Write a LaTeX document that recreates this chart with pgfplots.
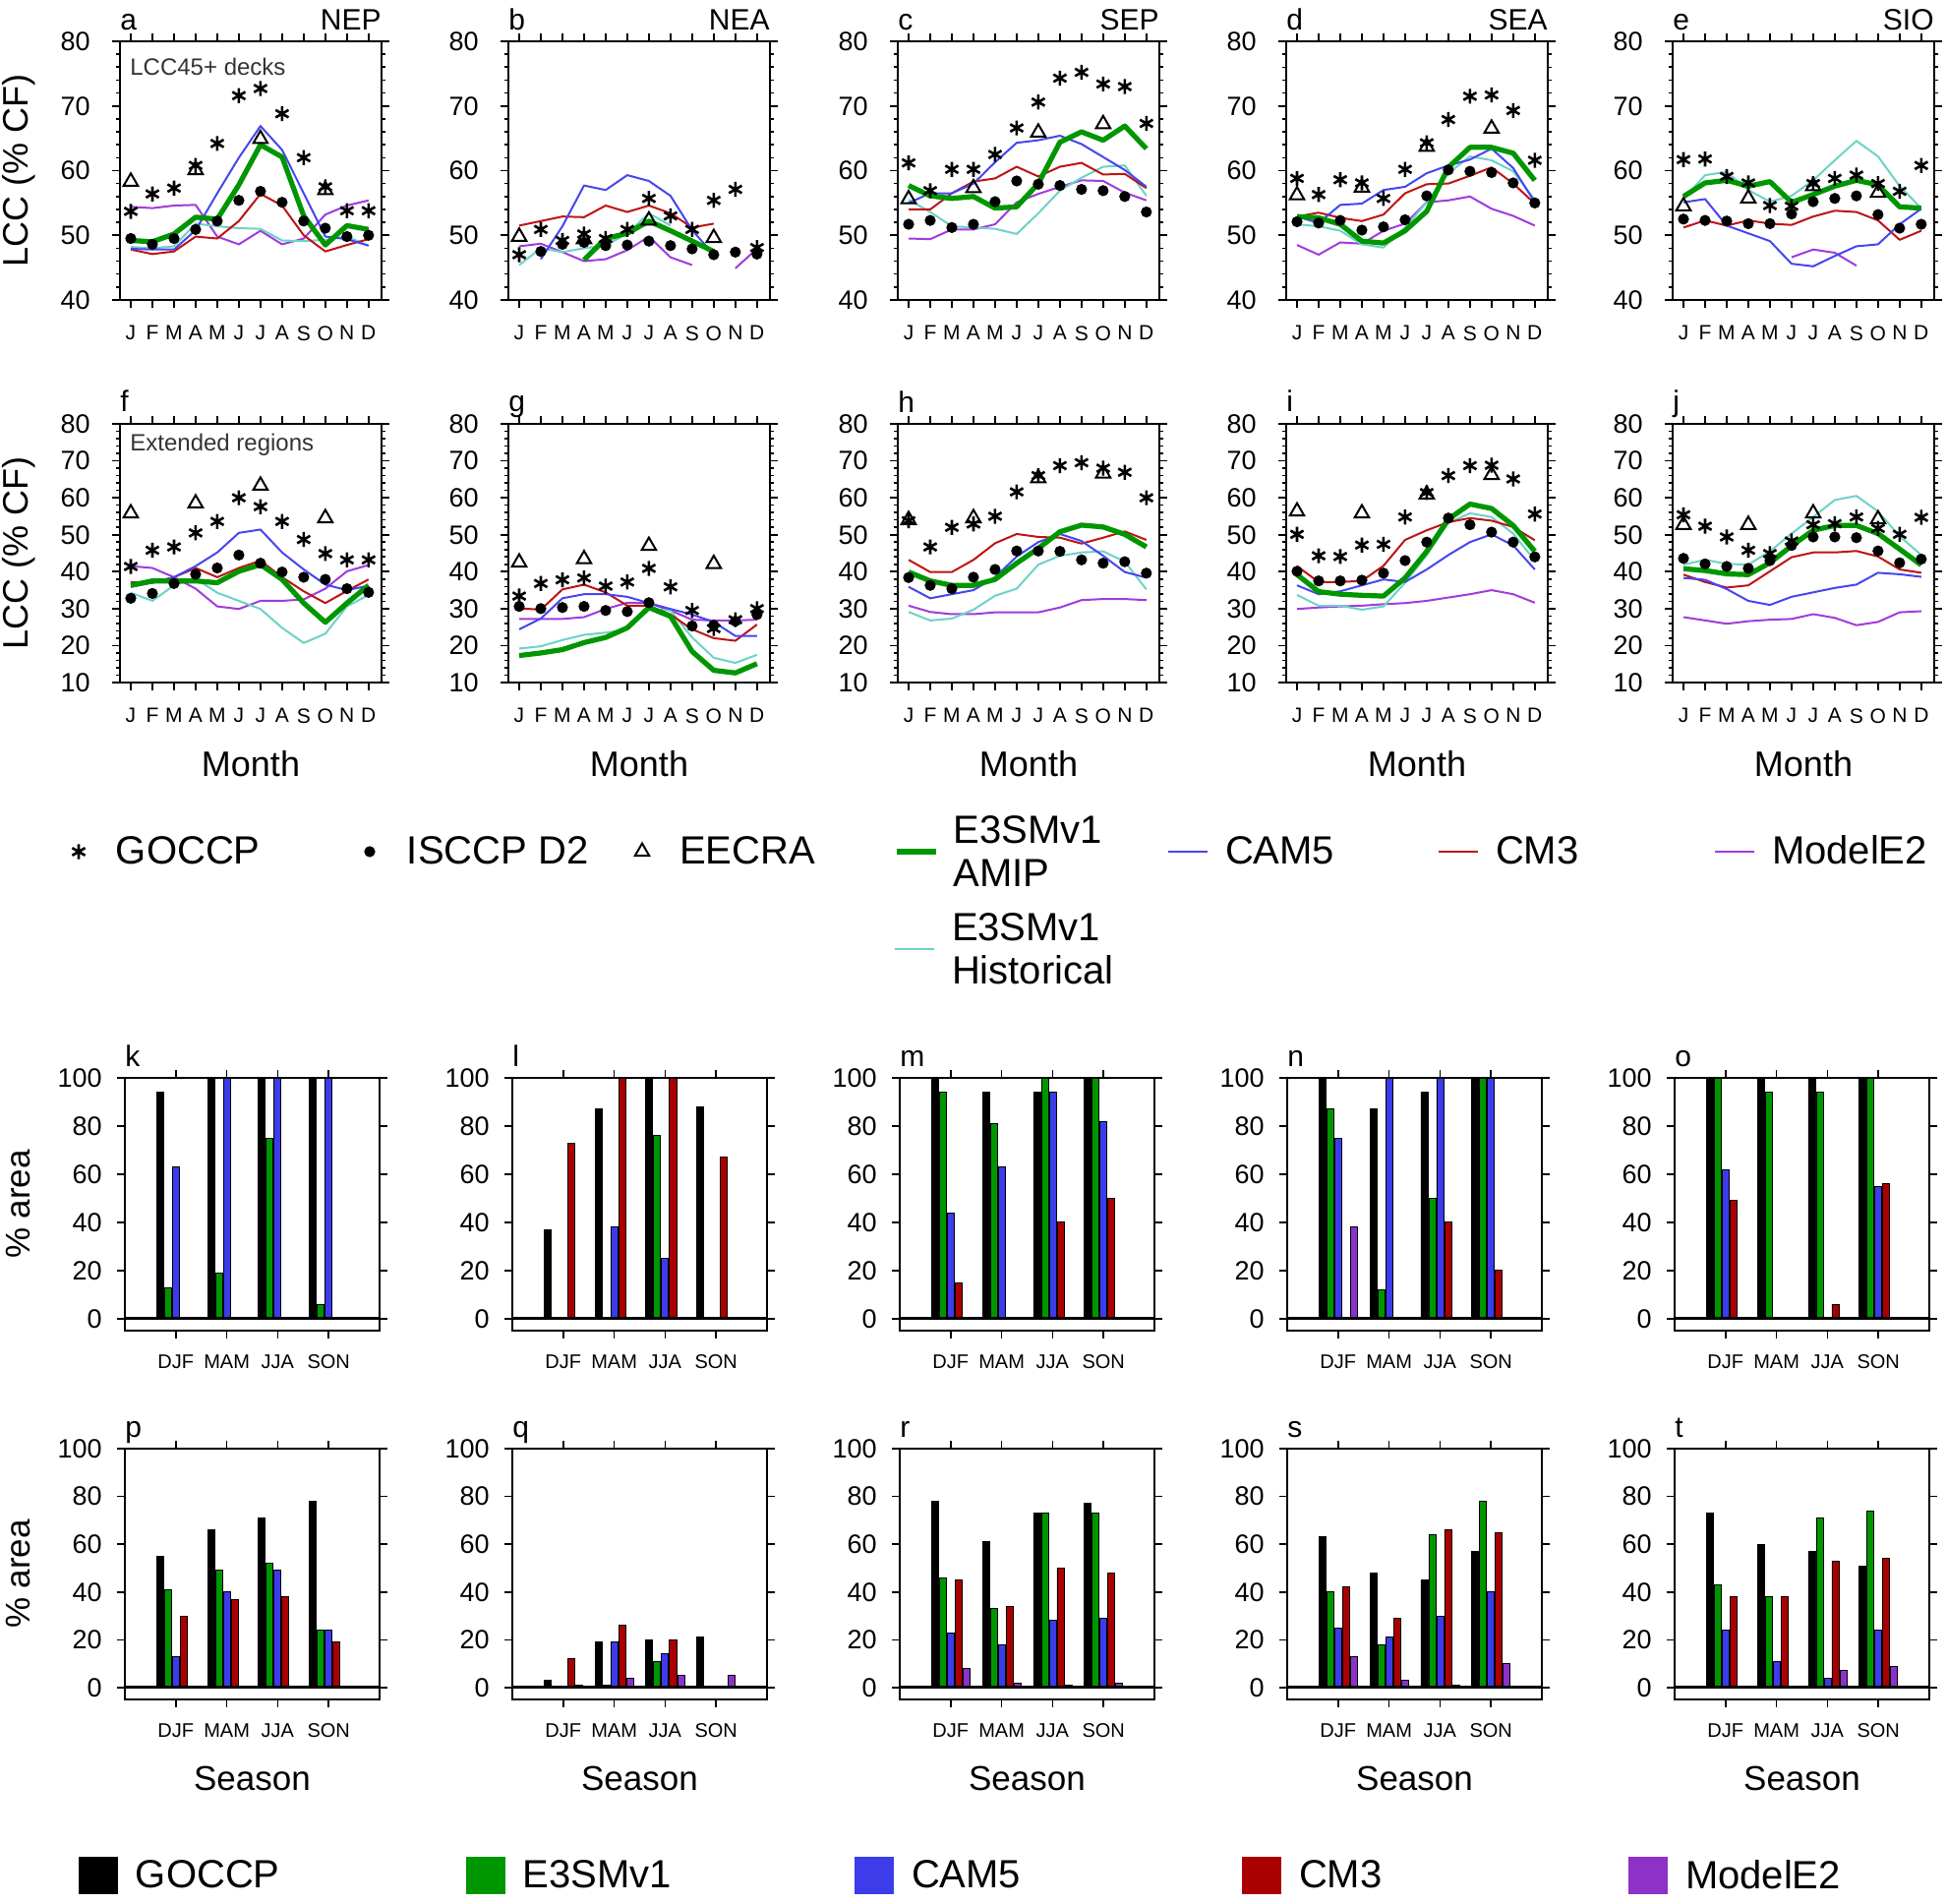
\documentclass[border=0pt]{standalone}
\usepackage{pgfplots}
\usepackage{pgfplotstable}
\pgfplotsset{compat=1.18}
\usepackage{fontspec}
\setmainfont{Liberation Sans}

\definecolor{cgreen}{RGB}{0,150,0}
\definecolor{cblue}{RGB}{70,70,240}
\definecolor{cred}{RGB}{190,20,20}
\definecolor{cpurple}{RGB}{160,60,220}
\definecolor{ccyan}{RGB}{110,210,200}
\definecolor{bgreen}{RGB}{0,150,0}
\definecolor{bblue}{RGB}{60,60,235}
\definecolor{bred}{RGB}{170,0,0}
\definecolor{bpurple}{RGB}{140,50,200}

\newcommand{\fs}[1]{\fontsize{#1}{#1}\selectfont}

% ---------- line panel data ----------
\pgfplotstableread{
m goccp isccp eecra amip cam5 cm3 mod hist
1 53.7 49.5 58.3 49.2 47.9 47.8 54.4 48.2
2 56.4 48.6 nan 49.0 47.8 47.1 54.2 48.0
3 57.3 49.5 nan 50.2 47.8 47.5 54.6 48.3
4 60.8 50.9 60.1 52.8 50.8 49.8 54.7 51.8
5 64.2 52.2 nan 52.5 56.5 49.5 49.8 51.4
6 71.6 55.4 nan 57.8 62.0 52.2 48.6 51.1
7 72.7 56.8 64.9 64.0 66.9 56.4 50.7 51.0
8 68.8 55.1 nan 62.1 63.2 54.6 48.6 49.2
9 62.0 52.2 nan 53.0 56.5 50.0 49.5 49.1
10 57.5 51.1 57.0 48.5 49.8 47.5 53.2 49.3
11 53.8 49.8 nan 51.5 49.4 48.5 54.6 49.8
12 53.8 50.0 nan 50.9 48.4 49.4 55.4 48.4
}\dA
\pgfplotstableread{
m goccp isccp eecra amip cam5 cm3 mod hist
1 47.0 nan 49.8 nan nan 51.5 48.3 45.4
2 50.9 47.5 nan nan 46.3 52.2 48.7 48.0
3 49.2 48.6 nan nan 51.4 52.9 47.4 47.4
4 50.2 48.9 49.4 46.2 57.7 52.8 46.0 48.0
5 49.5 48.4 nan 49.5 57.0 54.6 46.3 48.4
6 50.9 48.5 nan 50.3 59.3 53.6 47.7 50.3
7 55.7 49.1 52.3 52.2 58.4 54.6 49.8 53.4
8 53.0 48.4 nan 50.7 56.1 53.4 46.6 51.5
9 50.9 47.9 nan 49.1 50.8 51.2 45.4 nan
10 55.4 47.0 49.6 47.5 47.0 51.8 nan nan
11 57.1 47.4 nan nan nan nan 44.9 nan
12 48.1 47.1 nan nan nan nan 47.9 nan
}\dB
\pgfplotstableread{
m goccp isccp eecra amip cam5 cm3 mod hist
1 61.2 51.7 55.6 57.7 55.0 54.0 49.5 55.5
2 56.9 52.3 nan 56.1 56.5 54.0 49.4 53.6
3 60.2 51.2 nan 55.7 56.5 56.5 50.9 51.4
4 60.2 51.7 57.3 56.0 58.0 58.3 50.9 51.2
5 62.5 55.2 nan 54.2 61.3 58.8 51.7 51.0
6 66.6 58.4 nan 54.4 64.3 60.6 55.1 50.2
7 70.6 57.9 65.9 58.0 64.7 59.1 56.4 53.4
8 74.3 57.7 nan 64.4 65.4 60.6 57.5 56.9
9 75.2 57.1 nan 66.0 64.1 61.2 58.5 58.9
10 73.4 56.9 67.2 64.7 62.1 59.4 58.4 60.6
11 73.0 56.0 nan 66.9 60.1 59.5 56.6 60.8
12 67.3 53.6 nan 63.4 57.5 57.3 55.4 56.1
}\dC
\pgfplotstableread{
m goccp isccp eecra amip cam5 cm3 mod hist
1 58.8 52.1 56.2 52.9 52.9 52.9 48.5 51.7
2 56.3 51.9 nan 52.7 51.9 53.5 47.0 51.4
3 58.6 52.3 nan 51.7 54.7 52.7 48.9 50.7
4 58.1 50.8 57.4 49.1 54.9 52.2 48.7 48.6
5 55.7 51.3 nan 48.8 57.0 53.2 50.7 48.1
6 60.2 52.4 nan 50.7 57.5 56.5 51.8 51.2
7 64.3 56.1 63.7 53.7 59.6 57.9 55.1 55.1
8 67.9 60.1 nan 60.5 60.8 58.0 55.4 59.6
9 71.5 59.9 nan 63.6 61.7 59.2 56.0 62.2
10 71.7 59.7 66.5 63.6 63.4 60.5 54.1 61.6
11 69.3 58.1 nan 62.7 60.4 58.0 53.0 59.9
12 61.6 55.0 nan 58.5 55.1 54.9 51.5 55.5
}\dD
\pgfplotstableread{
m goccp isccp eecra amip cam5 cm3 mod hist
1 61.7 52.5 54.5 56.0 55.1 51.2 nan 55.6
2 61.8 52.3 nan 58.1 55.6 52.3 nan 59.3
3 59.1 52.2 nan 58.5 51.5 51.5 nan 59.8
4 58.1 51.8 55.7 57.6 50.3 52.3 nan 57.0
5 54.6 51.8 nan 58.3 49.1 51.8 nan 55.2
6 54.5 53.3 nan 55.1 45.6 51.6 46.6 56.1
7 58.0 55.2 57.6 56.3 45.2 52.9 47.8 58.5
8 58.8 55.7 nan 57.6 46.8 53.8 47.3 61.6
9 59.3 56.1 nan 58.5 48.3 53.6 45.3 64.6
10 58.0 53.2 56.6 57.8 48.6 52.3 nan 62.2
11 56.8 51.1 nan 54.4 51.7 49.3 nan 57.6
12 60.8 51.7 nan 54.2 54.1 50.7 nan 54.2
}\dE
\pgfplotstableread{
m goccp isccp eecra amip cam5 cm3 mod hist
1 41.4 32.8 55.8 36.3 35.9 37.2 41.5 34.3
2 45.8 34.1 nan 37.5 37.0 37.0 41.0 32.1
3 46.7 36.8 nan 37.5 38.5 38.5 38.5 36.3
4 50.5 39.3 58.5 37.5 41.5 41.0 35.4 38.1
5 53.6 41.0 nan 37.0 45.2 38.5 30.6 34.3
6 60.0 44.5 nan 40.1 50.5 41.0 29.9 32.1
7 57.6 42.3 63.3 41.9 51.4 43.0 32.1 29.9
8 53.6 39.9 nan 37.9 45.2 38.5 32.1 24.8
9 48.7 38.5 nan 31.5 40.6 34.7 32.5 20.7
10 44.9 37.9 54.5 26.3 36.5 31.5 35.4 23.2
11 43.2 35.4 nan 31.5 35.0 34.8 40.1 30.6
12 43.2 34.4 nan 36.3 36.2 37.9 41.8 33.7
}\dF
\pgfplotstableread{
m goccp isccp eecra amip cam5 cm3 mod hist
1 33.4 30.6 42.5 17.3 24.4 30.1 27.2 19.2
2 36.8 30.0 nan 18.0 27.3 29.7 27.2 19.8
3 37.8 30.3 nan 18.9 32.8 35.2 27.2 21.5
4 38.3 30.6 43.4 20.8 33.9 36.5 27.7 22.9
5 36.1 29.5 nan 22.2 33.9 34.4 29.9 23.5
6 37.2 29.2 nan 24.8 33.2 30.8 31.6 24.4
7 40.9 31.6 47.0 30.3 31.5 30.8 31.5 29.9
8 35.9 nan nan 27.9 29.9 28.4 29.5 29.5
9 29.5 25.3 nan 18.4 28.4 24.4 27.0 22.2
10 24.6 25.5 42.1 13.3 26.4 22.0 26.8 16.7
11 27.0 26.6 nan 12.6 22.6 21.3 26.8 15.3
12 30.0 28.4 nan 15.1 22.6 25.7 27.0 17.5
}\dG
\pgfplotstableread{
m goccp isccp eecra amip cam5 cm3 mod hist
1 53.8 38.4 54.0 39.9 35.9 43.2 30.8 29.1
2 46.7 36.3 nan 37.5 32.8 39.9 29.1 26.8
3 52.0 35.4 nan 36.3 33.9 39.9 28.5 27.3
4 52.9 38.5 54.5 36.3 35.0 43.2 28.5 29.7
5 55.0 40.6 nan 37.9 38.5 47.7 29.0 33.5
6 61.6 45.6 nan 42.3 44.1 50.2 29.0 35.4
7 66.0 45.6 65.3 46.3 48.0 49.4 29.0 41.9
8 68.7 45.5 nan 50.8 50.2 49.2 30.3 44.3
9 69.5 43.2 nan 52.6 48.3 47.6 32.3 45.2
10 68.0 42.3 66.6 52.1 44.3 49.2 32.6 45.5
11 66.9 42.7 nan 50.1 39.9 50.9 32.6 42.7
12 60.0 39.6 nan 46.7 38.4 48.6 32.3 35.2
}\dH
\pgfplotstableread{
m goccp isccp eecra amip cam5 cm3 mod hist
1 50.1 40.1 56.3 39.2 36.3 41.5 29.9 33.7
2 44.3 37.5 nan 34.6 33.9 37.2 30.3 30.8
3 44.1 37.5 nan 33.9 34.7 37.2 30.6 30.8
4 47.2 37.7 55.8 33.6 36.3 37.5 30.8 29.7
5 47.4 39.6 nan 33.4 37.9 41.6 31.2 30.6
6 54.8 43.0 nan 38.3 37.2 48.6 31.5 37.0
7 61.4 48.0 60.9 45.5 40.6 51.2 32.1 44.5
8 66.0 54.5 nan 54.2 44.5 53.4 33.0 53.2
9 68.7 52.7 nan 58.3 48.0 54.5 33.9 55.8
10 68.8 50.7 66.2 57.1 50.1 53.8 35.0 54.8
11 65.1 48.0 nan 52.5 47.1 52.1 33.9 50.3
12 55.6 44.0 nan 45.5 40.6 48.5 31.6 43.0
}\dI
\pgfplotstableread{
m goccp isccp eecra amip cam5 cm3 mod hist
1 55.4 43.6 52.7 40.8 38.3 39.2 27.7 41.9
2 52.3 42.1 nan 40.3 37.8 37.2 26.8 43.2
3 49.4 41.4 nan 39.4 35.3 35.7 25.9 42.1
4 45.8 40.9 52.7 39.2 32.1 36.3 26.6 41.9
5 44.9 43.0 nan 42.4 31.0 40.1 27.0 45.5
6 48.3 47.1 nan 47.0 33.2 43.9 27.2 50.3
7 52.7 49.4 55.8 51.2 34.4 45.2 28.5 54.8
8 53.0 49.4 nan 52.5 35.6 45.2 27.5 59.4
9 54.8 49.2 nan 52.5 36.5 45.6 25.5 60.5
10 51.7 45.6 54.2 50.3 39.7 44.1 26.4 56.3
11 50.1 42.4 nan 46.1 39.3 40.6 29.0 49.6
12 54.7 43.4 nan 41.8 38.6 39.7 29.3 44.5
}\dJ

% ---------- bar panel data (season 1..4 = DJF MAM JJA SON) ----------
\pgfplotstableread{
s g e c r p
1 94 13 63 nan nan
2 100 19 100 nan nan
3 100 75 100 nan nan
4 100 6 100 nan nan
}\bK
\pgfplotstableread{
s g e c r p
1 37 nan nan 73 nan
2 87 nan 38 100 nan
3 100 76 25 100 nan
4 88 nan nan 67 nan
}\bL
\pgfplotstableread{
s g e c r p
1 100 94 44 15 nan
2 94 81 63 nan nan
3 94 100 94 40 nan
4 100 100 82 50 nan
}\bM
\pgfplotstableread{
s g e c r p
1 100 87 75 nan 38
2 87 12 100 nan nan
3 94 50 100 40 nan
4 100 100 100 20 nan
}\bN
\pgfplotstableread{
s g e c r p
1 100 100 62 49 nan
2 100 94 nan nan nan
3 100 94 nan 6 nan
4 100 100 55 56 nan
}\bO
\pgfplotstableread{
s g e c r p
1 55 41 13 30 nan
2 66 49 40 37 nan
3 71 52 49 38 nan
4 78 24 24 19 nan
}\bP
\pgfplotstableread{
s g e c r p
1 3 nan nan 12 1
2 19 1 19 26 4
3 20 11 14 20 5
4 21 nan nan nan 5
}\bQ
\pgfplotstableread{
s g e c r p
1 78 46 23 45 8
2 61 33 18 34 2
3 73 73 28 50 1
4 77 73 29 48 2
}\bR
\pgfplotstableread{
s g e c r p
1 63 40 25 42 13
2 48 18 21 29 3
3 45 64 30 66 1
4 57 78 40 65 10
}\bS
\pgfplotstableread{
s g e c r p
1 73 43 24 38 nan
2 60 38 11 38 nan
3 57 71 4 53 7
4 51 74 24 54 9
}\bT

\pgfplotsset{
  every axis/.append style={/pgf/number format/assume math mode=true},
  legmark/.style={legend image code/.code={\path[draw=none,fill=none] (0pt,-0.5pt) rectangle (29pt,0.5pt); \draw[##1] plot coordinates {(10pt,0pt)};}},
  legline/.style={legend image code/.code={\path[draw=none,fill=none] (0pt,-0.5pt) rectangle (29pt,0.5pt); \draw[##1] (0pt,0pt) -- (20pt,0pt);}},
  legsq/.style={legend image code/.code={\path[draw=none,fill=none] (0pt,-0.5pt) rectangle (29pt,0.5pt); \fill[##1,draw=none] (0pt,-9.5pt) rectangle (20pt,9.5pt);}},
  base/.style={scale only axis, anchor=north west, clip=false,
    tick align=outside, axis line style={line width=0.9pt},
    tick style={black, line width=0.8pt},
    major tick length=4pt, minor tick length=2.2pt,
    unbounded coords=jump,
    legend cell align=left,
    legend style={draw=none, fill=none, inner sep=0pt, outer sep=0pt, anchor=west,
      font=\fontsize{20}{22}\selectfont, nodes={inner sep=0pt}}},
  lp/.style={base, width=133pt, height=131.5pt, xmin=0.5, xmax=12.6,
    xtick={1,...,12}, xticklabels={J,F,M,A,M,J,J,A,S,O,N,D},
    xticklabel style={font=\fs{10.5}, inner sep=0pt, yshift=-9pt},
    yticklabel style={font=\fs{13.5}, inner sep=0pt, xshift=-11pt},
    minor y tick num=4},
  lp1/.style={lp, ymin=40, ymax=80, ytick={40,50,...,80}},
  lp2/.style={lp, ymin=10, ymax=80, ytick={10,20,...,80}},
  bp/.style={base, width=129.5pt, xmin=0, xmax=5, ymin=-5, ymax=100,
    xtick={1,2,3,4}, xticklabels={DJF,MAM,JJA,SON},
    ytick={0,20,...,100},
    xticklabel style={font=\fs{10}, inner sep=0pt, yshift=-8pt},
    yticklabel style={font=\fs{13.5}, inner sep=0pt, xshift=-7.5pt}},
  bp1/.style={bp, height=128.5pt},
  bp2/.style={bp, height=127.5pt},
  sGO/.style={only marks, mark=asterisk, mark size=3.8pt, black, line width=1.3pt},
  sIS/.style={only marks, mark=*, mark size=2.6pt, black},
  sEE/.style={only marks, mark=triangle, mark size=4.2pt, black, line width=1pt},
  sAM/.style={cgreen, line width=2.6pt, line join=round},
  sCA/.style={cblue, line width=1pt, line join=round},
  sCM/.style={cred, line width=1pt, line join=round},
  sMO/.style={cpurple, line width=1pt, line join=round},
  sHI/.style={ccyan, line width=1pt, line join=round},
  bstyle/.style={ybar, bar width=3.5pt, draw=black, line width=0.4pt},
}

\newcommand{\lineplots}[1]{%
  \addplot[sMO] table[x=m,y=mod]{#1};
  \addplot[sHI] table[x=m,y=hist]{#1};
  \addplot[sCM] table[x=m,y=cm3]{#1};
  \addplot[sCA] table[x=m,y=cam5]{#1};
  \addplot[sAM] table[x=m,y=amip]{#1};
  \addplot[sEE] table[x=m,y=eecra]{#1};
  \addplot[sIS] table[x=m,y=isccp]{#1};
  \addplot[sGO] table[x=m,y=goccp]{#1};
}
\newcommand{\barplots}[1]{%
  \addplot[bstyle, bar shift=-8pt, fill=black] table[x=s,y=g]{#1};
  \addplot[bstyle, bar shift=-4pt, fill=bgreen] table[x=s,y=e]{#1};
  \addplot[bstyle, bar shift=0pt, fill=bblue] table[x=s,y=c]{#1};
  \addplot[bstyle, bar shift=4pt, fill=bred] table[x=s,y=r]{#1};
  \addplot[bstyle, bar shift=8pt, fill=bpurple] table[x=s,y=p]{#1};
  \addplot[black, line width=1.4pt] coordinates {(0,0) (5,0)};
  \addplot[black, line width=1.4pt] coordinates {(0,100) (5,100)};
}
\newcommand{\ptitle}[2]{%
  \node[anchor=base west, font=\fs{15}, yshift=6pt, inner sep=0pt] at (rel axis cs:0,1) {#1};
  \node[anchor=base east, font=\fs{15}, yshift=6pt, inner sep=0pt] at (rel axis cs:1,1) {#2};
}
\newcommand{\twoline}[2]{\raisebox{5.3pt}[\height][\depth]{\begin{tabular}{@{}l@{}}#1\\#2\end{tabular}}}

\begin{document}
\begin{tikzpicture}
\path[use as bounding box] (0pt,0pt) rectangle (990pt,-968pt);

% ================= Row 1 =================
\begin{axis}[lp1, at={(61pt,-21pt)},
  ylabel={LCC (\% CF)}, ylabel style={font=\fs{18}, at={(axis description cs:-0.387,0.5)}, anchor=center},
  legend style={at={(axis description cs:-0.2331,-2.1331)}}]
\addlegendimage{sGO, legmark}
\addlegendentry{GOCCP}
\lineplots{\dA}
\ptitle{a}{NEP}
\node[anchor=west, font=\fs{12}, text=black!80, inner sep=0pt, xshift=5pt, yshift=-13pt] at (rel axis cs:0,1) {LCC45+ decks};
\end{axis}

\begin{axis}[lp1, at={(258.5pt,-21pt)},
  legend style={at={(axis description cs:-0.6053,-2.1331)}}]
\addlegendimage{sIS, legmark}
\addlegendentry{ISCCP D2}
\lineplots{\dB}
\ptitle{b}{NEA}
\end{axis}

\begin{axis}[lp1, at={(456.5pt,-21pt)},
  legend style={at={(axis description cs:-1.0526,-2.1331)}}]
\addlegendimage{sEE, legmark}
\addlegendentry{EECRA}
\lineplots{\dC}
\ptitle{c}{SEP}
\end{axis}

\begin{axis}[lp1, at={(654pt,-21pt)},
  legend style={at={(axis description cs:-1.5,-2.1331)}}]
\addlegendimage{sAM, legline}
\addlegendentry{\twoline{E3SMv1}{AMIP}}
\lineplots{\dD}
\ptitle{d}{SEA}
\end{axis}

\begin{axis}[lp1, at={(850.5pt,-21pt)},
  legend style={at={(axis description cs:-1.9323,-2.1331)}}]
\addlegendimage{sCA, legline}
\addlegendentry{CAM5}
\lineplots{\dE}
\ptitle{e}{SIO}
\end{axis}

% ================= Row 2 =================
\begin{axis}[lp2, at={(61pt,-215.5pt)},
  ylabel={LCC (\% CF)}, ylabel style={font=\fs{18}, at={(axis description cs:-0.387,0.5)}, anchor=center},
  xlabel={Month}, xlabel style={font=\fs{18}, at={(axis description cs:0.5,-0.3156)}, anchor=center},
  legend style={at={(axis description cs:5.0376,-0.654)}}]
\addlegendimage{sCM, legline}
\addlegendentry{CM3}
\lineplots{\dF}
\ptitle{f}{}
\node[anchor=west, font=\fs{12}, text=black!80, inner sep=0pt, xshift=5pt, yshift=-10.5pt] at (rel axis cs:0,1) {Extended regions};
\end{axis}

\begin{axis}[lp2, at={(258.5pt,-215.5pt)},
  xlabel={Month}, xlabel style={font=\fs{18}, at={(axis description cs:0.5,-0.3156)}, anchor=center},
  legend style={at={(axis description cs:4.609,-0.654)}}]
\addlegendimage{sMO, legline}
\addlegendentry{ModelE2}
\lineplots{\dG}
\ptitle{g}{}
\end{axis}

\begin{axis}[lp2, at={(456.5pt,-215.5pt)},
  xlabel={Month}, xlabel style={font=\fs{18}, at={(axis description cs:0.5,-0.3156)}, anchor=center},
  legend style={at={(axis description cs:-0.015,-1.0304)}}]
\addlegendimage{sHI, legline}
\addlegendentry{\twoline{E3SMv1}{Historical}}
\lineplots{\dH}
\ptitle{h}{}
\end{axis}

\begin{axis}[lp2, at={(654pt,-215.5pt)},
  xlabel={Month}, xlabel style={font=\fs{18}, at={(axis description cs:0.5,-0.3156)}, anchor=center}]
\lineplots{\dI}
\ptitle{i}{}
\end{axis}

\begin{axis}[lp2, at={(850.5pt,-215.5pt)},
  xlabel={Month}, xlabel style={font=\fs{18}, at={(axis description cs:0.5,-0.3156)}, anchor=center}]
\lineplots{\dJ}
\ptitle{j}{}
\end{axis}

% ================= Row 3 (bars) =================
\begin{axis}[bp1, at={(63.5pt,-548pt)},
  ylabel={\% area}, ylabel style={font=\fs{17.5}, at={(axis description cs:-0.417,0.5)}, anchor=center},
  legend style={at={(axis description cs:-0.1815,-2.1556)}}]
\addlegendimage{legsq, fill=black}
\addlegendentry{GOCCP}
\barplots{\bK}
\ptitle{k}{}
\end{axis}

\begin{axis}[bp1, at={(260.5pt,-548pt)},
  legend style={at={(axis description cs:-0.1815,-2.1556)}}]
\addlegendimage{legsq, fill=bgreen}
\addlegendentry{E3SMv1}
\barplots{\bL}
\ptitle{l}{}
\end{axis}

\begin{axis}[bp1, at={(457.5pt,-548pt)},
  legend style={at={(axis description cs:-0.1776,-2.1556)}}]
\addlegendimage{legsq, fill=bblue}
\addlegendentry{CAM5}
\barplots{\bM}
\ptitle{m}{}
\end{axis}

\begin{axis}[bp1, at={(654.5pt,-548pt)},
  legend style={at={(axis description cs:-0.1776,-2.1556)}}]
\addlegendimage{legsq, fill=bred}
\addlegendentry{CM3}
\barplots{\bN}
\ptitle{n}{}
\end{axis}

\begin{axis}[bp1, at={(851.5pt,-548pt)},
  legend style={at={(axis description cs:-0.1815,-2.1556)}}]
\addlegendimage{legsq, fill=bpurple}
\addlegendentry{ModelE2}
\barplots{\bO}
\ptitle{o}{}
\end{axis}

% ================= Row 4 (bars) =================
\begin{axis}[bp2, at={(63.5pt,-736.5pt)},
  ylabel={\% area}, ylabel style={font=\fs{17.5}, at={(axis description cs:-0.417,0.5)}, anchor=center},
  xlabel={Season}, xlabel style={font=\fs{17.5}, at={(axis description cs:0.5,-0.3137)}, anchor=center}]
\barplots{\bP}
\ptitle{p}{}
\end{axis}

\begin{axis}[bp2, at={(260.5pt,-736.5pt)},
  xlabel={Season}, xlabel style={font=\fs{17.5}, at={(axis description cs:0.5,-0.3137)}, anchor=center}]
\barplots{\bQ}
\ptitle{q}{}
\end{axis}

\begin{axis}[bp2, at={(457.5pt,-736.5pt)},
  xlabel={Season}, xlabel style={font=\fs{17.5}, at={(axis description cs:0.5,-0.3137)}, anchor=center}]
\barplots{\bR}
\ptitle{r}{}
\end{axis}

\begin{axis}[bp2, at={(654.5pt,-736.5pt)},
  xlabel={Season}, xlabel style={font=\fs{17.5}, at={(axis description cs:0.5,-0.3137)}, anchor=center}]
\barplots{\bS}
\ptitle{s}{}
\end{axis}

\begin{axis}[bp2, at={(851.5pt,-736.5pt)},
  xlabel={Season}, xlabel style={font=\fs{17.5}, at={(axis description cs:0.5,-0.3137)}, anchor=center}]
\barplots{\bT}
\ptitle{t}{}
\end{axis}

\end{tikzpicture}
\end{document}
